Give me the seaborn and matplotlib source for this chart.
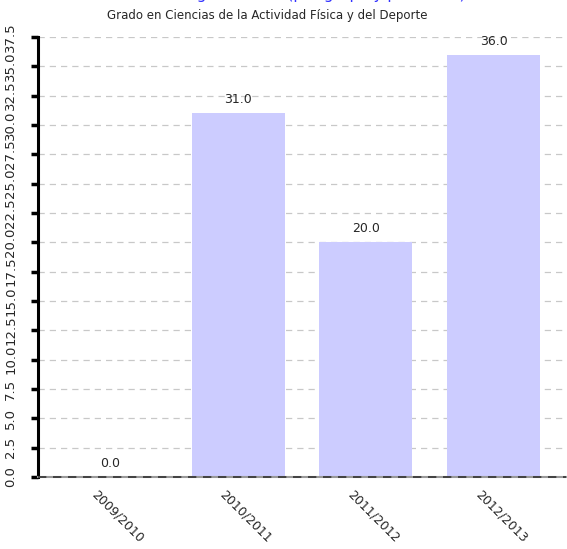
import matplotlib
matplotlib.use("Agg")
import matplotlib.pyplot as plt
import matplotlib.transforms as mtransforms
import seaborn as sns
import pandas as pd

# data
cursos = ["2009/2010", "2010/2011", "2011/2012", "2012/2013"]
valores = [0.0, 31.0, 20.0, 36.0]
y_ticks = [0.0, 2.5, 5.0, 7.5, 10.0, 12.5, 15.0, 17.5, 20.0, 22.5, 25.0, 27.5, 30.0, 32.5, 35.0, 37.5]

titulo = "Grado en Ciencias de la Actividad Física y del Deporte"
titulo_sup = "Tasa de graduación (por grupo y por curso)"

df = pd.DataFrame({"curso": cursos, "valor": valores})

sns.set_style("white")
plt.rcParams["font.family"] = ["DejaVu Sans"]

fig = plt.figure(figsize=(5.67, 5.49), dpi=100)
ax = fig.add_axes([38 / 567, 1 - 477 / 549, 528 / 567, 440 / 549])

sns.barplot(data=df, x="curso", y="valor", color="#ccccff", saturation=1,
            width=0.727, ax=ax, zorder=2)
for p in ax.patches:
    p.set_edgecolor("none")

ax.set_xlim(-0.565, 3.565)
ax.set_ylim(0, 37.5)
ax.set_yticks(y_ticks)
ax.set_yticklabels([f"{v:.1f}" for v in y_ticks], rotation=90, va="center",
                   fontsize=9.5)
ax.yaxis.grid(True, color="#c8c8c8", linestyle=(0, (5, 4)), linewidth=0.9)
ax.set_axisbelow(True)
ax.tick_params(axis="y", left=True, direction="out", length=5, width=2.5,
               color="black", pad=10)
ax.tick_params(axis="x", bottom=False, length=0, pad=8)

for s in ["top", "right"]:
    ax.spines[s].set_visible(False)
ax.spines["left"].set_color("black")
ax.spines["left"].set_linewidth(2.2)
ax.spines["bottom"].set_color("#999999")
ax.spines["bottom"].set_linewidth(1.5)
ax.axhline(0, color="#333333", linestyle=(0, (5, 4)), linewidth=1.2, zorder=3,
           clip_on=False)

offset = mtransforms.ScaledTranslation(-12 / 100, 0, fig.dpi_scale_trans)
for lab in ax.get_xticklabels():
    lab.set_rotation(-45)
    lab.set_ha("left")
    lab.set_va("top")
    lab.set_rotation_mode("anchor")
    lab.set_fontsize(9)
    lab.set_transform(lab.get_transform() + offset)

for i, v in enumerate(valores):
    ax.annotate(f"{v:.1f}", xy=(i, v), xytext=(0, 5), textcoords="offset points",
                ha="center", va="bottom", fontsize=9)

ax.set_xlabel("")
ax.set_ylabel("")

fig.text(267 / 567, 1 - 16 / 549, titulo, ha="center", va="center", fontsize=8.5)
fig.text(300 / 567, 1 + 1 / 549, titulo_sup, ha="center", va="baseline",
         fontsize=11, color="#3333ff")

fig.savefig("out.png", dpi=100)
